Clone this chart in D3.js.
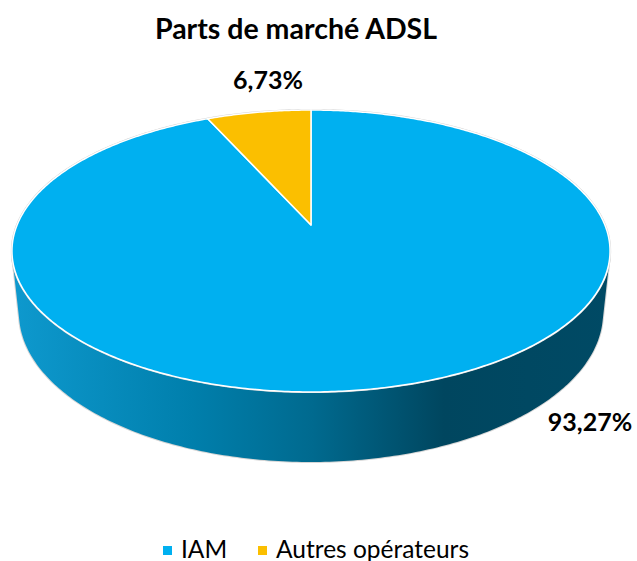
<!DOCTYPE html>
<html>
<head>
<meta charset="utf-8">
<script src="https://cdn.jsdelivr.net/npm/d3@7"></script>
<style>
  html, body { margin: 0; padding: 0; background: #ffffff; }
  svg { display: block; }
  text { font-family: Lato, "Open Sans", "DejaVu Sans", sans-serif; }
</style>
</head>
<body>
<script>
// ---- data ----
const title = "Parts de marché ADSL";
const categories = ["IAM", "Autres opérateurs"];
const values = [93.27, 6.73];
const valueLabels = ["93,27%", "6,73%"];
const colors = ["#00B0F0", "#FBBF00"];

// ---- layout ----
const W = 637, H = 561;
const cx = 311, cy = 225;          // projected pie centre
const F = 1412.5, Dist = 4.806;    // perspective camera
const alpha = 27.6 * Math.PI / 180; // elevation
const depth = 0.2403;              // pie thickness (radius = 1)
const sa = Math.sin(alpha), ca = Math.cos(alpha);

function project(theta, h) {
  const X = Math.sin(theta), Z = -Math.cos(theta), Y = h;
  const dy = Y - Dist * sa, dz = Z - Dist * ca;
  const zc = -dy * sa - dz * ca;
  const yc = dy * ca - dz * sa;
  return [cx + F * X / zc, cy - F * yc / zc];
}
function centre(h) {
  const dy = h - Dist * sa, dz = -Dist * ca;
  const zc = -dy * sa - dz * ca;
  const yc = dy * ca - dz * sa;
  return [cx, cy - F * yc / zc];
}

const svg = d3.select("body").append("svg")
  .attr("width", W).attr("height", H);

const defs = svg.append("defs");
const grad = defs.append("linearGradient")
  .attr("id", "sideGrad")
  .attr("gradientUnits", "userSpaceOnUse")
  .attr("x1", 12).attr("y1", 0).attr("x2", 612).attr("y2", 0);
[[0, "#0E99CE"], [0.3, "#007FAC"], [0.5, "#006A8F"], [0.72, "#00465F"], [1, "#004A65"]]
  .forEach(([o, c]) => grad.append("stop").attr("offset", o).attr("stop-color", c));

const color = d3.scaleOrdinal().domain(categories).range(colors);
const pie = d3.pie().sort(null).value(d => d.value)
  .startAngle(0).endAngle(2 * Math.PI);
const data = categories.map((c, i) => ({ name: c, value: values[i], label: valueLabels[i] }));
const arcs = pie(data);

const line = d3.line();

// ---- side wall (visible front part) ----
const tVis = Math.acos(-1 / (Dist * ca));
const N = 200;
const sideTop = d3.range(N + 1).map(i => project(tVis + (2 * Math.PI - 2 * tVis) * i / N, 0));
const sideBot = d3.range(N + 1).map(i => project(tVis + (2 * Math.PI - 2 * tVis) * i / N, -depth)).reverse();
const sidePts = sideTop.concat(sideBot);

svg.append("path")
  .attr("d", line(sidePts) + "Z")
  .attr("fill", "none")
  .attr("stroke", "#d6d6d6")
  .attr("stroke-width", 2);
svg.append("path")
  .attr("d", line(sidePts) + "Z")
  .attr("fill", "url(#sideGrad)");

// ---- top face ----
const rim = d3.range(361).map(i => project(i * Math.PI / 180, 0));
svg.append("path")
  .attr("d", line(rim) + "Z")
  .attr("fill", "none")
  .attr("stroke", "#cfcfcf")
  .attr("stroke-width", 2.2);

const c0 = centre(0);
svg.selectAll("path.slice")
  .data(arcs)
  .join("path")
  .attr("class", "slice")
  .attr("d", d => {
    const n = Math.max(2, Math.ceil((d.endAngle - d.startAngle) / 0.01));
    const pts = [c0].concat(d3.range(n + 1).map(i => project(d.startAngle + (d.endAngle - d.startAngle) * i / n, 0)));
    return line(pts) + "Z";
  })
  .attr("fill", d => color(d.data.name))
  .attr("stroke", "#ffffff")
  .attr("stroke-width", 1.5)
  .attr("stroke-linejoin", "round");

// ---- title ----
svg.append("text")
  .attr("x", 296).attr("y", 39)
  .attr("text-anchor", "middle")
  .attr("font-weight", 700)
  .attr("font-size", 28.5)
  .attr("fill", "#000")
  .text(title);

// ---- data labels ----
const labelPos = { "IAM": [590, 431], "Autres opérateurs": [268, 89] };
svg.selectAll("text.dl")
  .data(arcs)
  .join("text")
  .attr("class", "dl")
  .attr("x", d => labelPos[d.data.name][0])
  .attr("y", d => labelPos[d.data.name][1])
  .attr("text-anchor", "middle")
  .attr("font-weight", 700)
  .attr("font-size", 25)
  .attr("fill", "#000")
  .text(d => d.data.label);

// ---- legend ----
const legendX = [163, 258];
const lg = svg.selectAll("g.legend")
  .data(categories)
  .join("g")
  .attr("class", "legend")
  .attr("transform", (d, i) => `translate(${legendX[i]},546)`);
lg.append("rect")
  .attr("width", 9).attr("height", 9)
  .attr("fill", d => color(d));
lg.append("text")
  .attr("x", 18).attr("y", 11.5)
  .attr("font-size", 24.5)
  .attr("fill", "#000")
  .text(d => d);
</script>
</body>
</html>
